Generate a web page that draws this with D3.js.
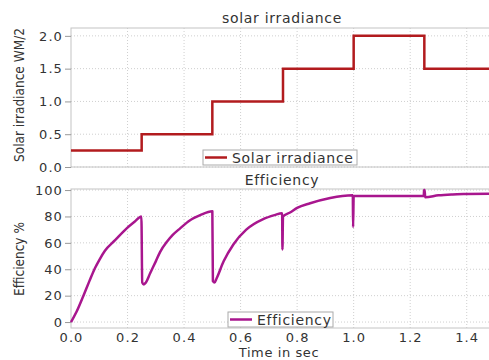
<!DOCTYPE html>
<html>
<head>
<meta charset="utf-8">
<script src="https://cdn.jsdelivr.net/npm/d3@7"></script>
<style>
  body { margin: 0; background: #fff; }
  text { font-family: "DejaVu Sans", Verdana, sans-serif; fill: #333; }
  .tick text { font-size: 13px; letter-spacing: 1.1px; }
  .ttl { font-size: 14px; letter-spacing: 0.7px; }
  .ylab { font-family: "DejaVu Sans Condensed", "DejaVu Sans", sans-serif; font-stretch: condensed; font-size: 13.5px; }
  .grid line { stroke: #cfcfcf; stroke-dasharray: 1,2; }
  .frame { fill: none; stroke: #c4c4c4; stroke-width: 1; }
</style>
</head>
<body>
<script>
//solar irradiance step input
var sunTime = [0, 0.25, 0.5, 0.75, 1.0, 1.25, 1.5];
var sunValue = [0.25, 0.5, 1.0, 1.5, 2.0, 1.5, 1.5];

//efficiency trace
var effTime = [0, 0.02, 0.044, 0.065, 0.085, 0.10, 0.12, 0.156, 0.197, 0.225, 0.249,
  0.252, 0.258, 0.265, 0.28, 0.30, 0.315, 0.34, 0.36, 0.386, 0.42, 0.457, 0.5,
  0.502, 0.508, 0.515, 0.54, 0.575, 0.62, 0.68, 0.72, 0.747,
  0.748, 0.750, 0.775, 0.80, 0.846, 0.917, 0.96, 0.997,
  0.998, 1.0, 1.1, 1.2, 1.248,
  1.249, 1.251, 1.253, 1.3, 1.35, 1.4, 1.5];
var effValue = [0, 8, 20, 31, 41, 47, 54, 62, 71, 76, 80,
  30, 28.5, 30, 37, 46, 53, 61, 66, 71, 77, 81, 84,
  31, 30, 33, 46, 59, 70, 78, 81, 82.5,
  55, 80, 83, 86.5, 90, 94, 95.5, 96,
  72, 95.5, 95.5, 95.5, 95.5,
  100, 100, 94.5, 96, 96.7, 97, 97.3];

var xTicks = [0, 0.2, 0.4, 0.6, 0.8, 1.0, 1.2, 1.4];
var sunTicks = [0, 0.5, 1.0, 1.5, 2.0];
var effTicks = [0, 20, 40, 60, 80, 100];

var width = 489, height = 360;
var left = 71, right = 495;

var svg = d3.select("body").append("svg")
    .attr("width", width)
    .attr("height", height);

var x = d3.scaleLinear().domain([0, 1.5]).range([left, right]);

//draw one panel: frame, grid, ticks, title, y label
function panel(top, bottom, y, yTicks, yFmt, title, titleY, ylabel, ylabelY){
    var g = svg.append("g");

    g.append("g").attr("class", "grid")
      .selectAll("line").data(xTicks.slice(1)).enter().append("line")
      .attr("x1", d => x(d)).attr("x2", d => x(d))
      .attr("y1", top).attr("y2", bottom);
    g.append("g").attr("class", "grid")
      .selectAll("line").data(yTicks).enter().append("line")
      .attr("x1", left).attr("x2", right)
      .attr("y1", d => y(d)).attr("y2", d => y(d));

    g.append("rect").attr("class", "frame")
      .attr("x", left).attr("y", top)
      .attr("width", right - left).attr("height", bottom - top);

    var ax = g.append("g")
      .attr("transform", "translate(" + left + ",0)")
      .call(d3.axisLeft(y).tickValues(yTicks).tickFormat(yFmt).tickSize(6).tickPadding(2));
    ax.select(".domain").remove();
    ax.selectAll(".tick line").attr("stroke", "#999");

    g.append("text").attr("class", "ttl")
      .attr("x", 282).attr("y", titleY)
      .attr("text-anchor", "middle").text(title);

    g.append("text").attr("class", "ylab")
      .attr("transform", "translate(" + 24 + "," + ylabelY + ") rotate(-90)")
      .attr("text-anchor", "middle").text(ylabel);
    return g;
}

//top panel
var ySun = d3.scaleLinear().domain([0, 2.12]).range([167, 28]);
panel(28, 167, ySun, sunTicks, d3.format(".1f"), "solar irradiance", 23, "Solar irradiance WM/2", 95);

var sunLine = d3.line()
    .x(d => x(d[0]))
    .y(d => ySun(d[1]))
    .curve(d3.curveStepAfter);
svg.append("path")
    .datum(d3.zip(sunTime, sunValue))
    .attr("d", sunLine)
    .attr("fill", "none")
    .attr("stroke", "#b21b1e")
    .attr("stroke-width", 2.5);

//bottom panel
var yEff = d3.scaleLinear().domain([-4.5, 100.8]).range([328, 189]);
panel(189, 328, yEff, effTicks, d3.format("d"), "Efficiency", 185, "Efficiency %", 259);

var effLine = d3.line()
    .x(d => x(d[0]))
    .y(d => yEff(d[1]))
    .curve(d3.curveMonotoneX);
svg.append("path")
    .datum(d3.zip(effTime, effValue))
    .attr("d", effLine)
    .attr("fill", "none")
    .attr("stroke", "#a8168e")
    .attr("stroke-width", 2.5)
    .attr("stroke-linejoin", "round");

//x axis labels
var xa = svg.append("g")
    .attr("transform", "translate(0,328)")
    .call(d3.axisBottom(x).tickValues(xTicks).tickFormat(d3.format(".1f")).tickSize(0).tickPadding(5));
xa.select(".domain").remove();

svg.append("text").attr("class", "ttl")
    .attr("x", 279).attr("y", 356.5)
    .attr("text-anchor", "middle").style("font-size", "13px").style("letter-spacing", "0.6px").text("Time in sec");

//legends
function legend(x0, y0, w, label, color){
    var lg = svg.append("g");
    lg.append("rect").attr("x", x0).attr("y", y0).attr("width", w).attr("height", 15)
      .attr("fill", "#fff").attr("stroke", "#aaa");
    lg.append("line").attr("x1", x0 + 2).attr("x2", x0 + 24)
      .attr("y1", y0 + 7.5).attr("y2", y0 + 7.5)
      .attr("stroke", color).attr("stroke-width", 2.5);
    lg.append("text").attr("class", "ttl")
      .attr("x", x0 + 29).attr("y", y0 + 13).text(label);
}
legend(203, 150, 154, "Solar irradiance", "#b21b1e");
legend(228, 312, 105, "Efficiency", "#a8168e");
</script>
</body>
</html>
